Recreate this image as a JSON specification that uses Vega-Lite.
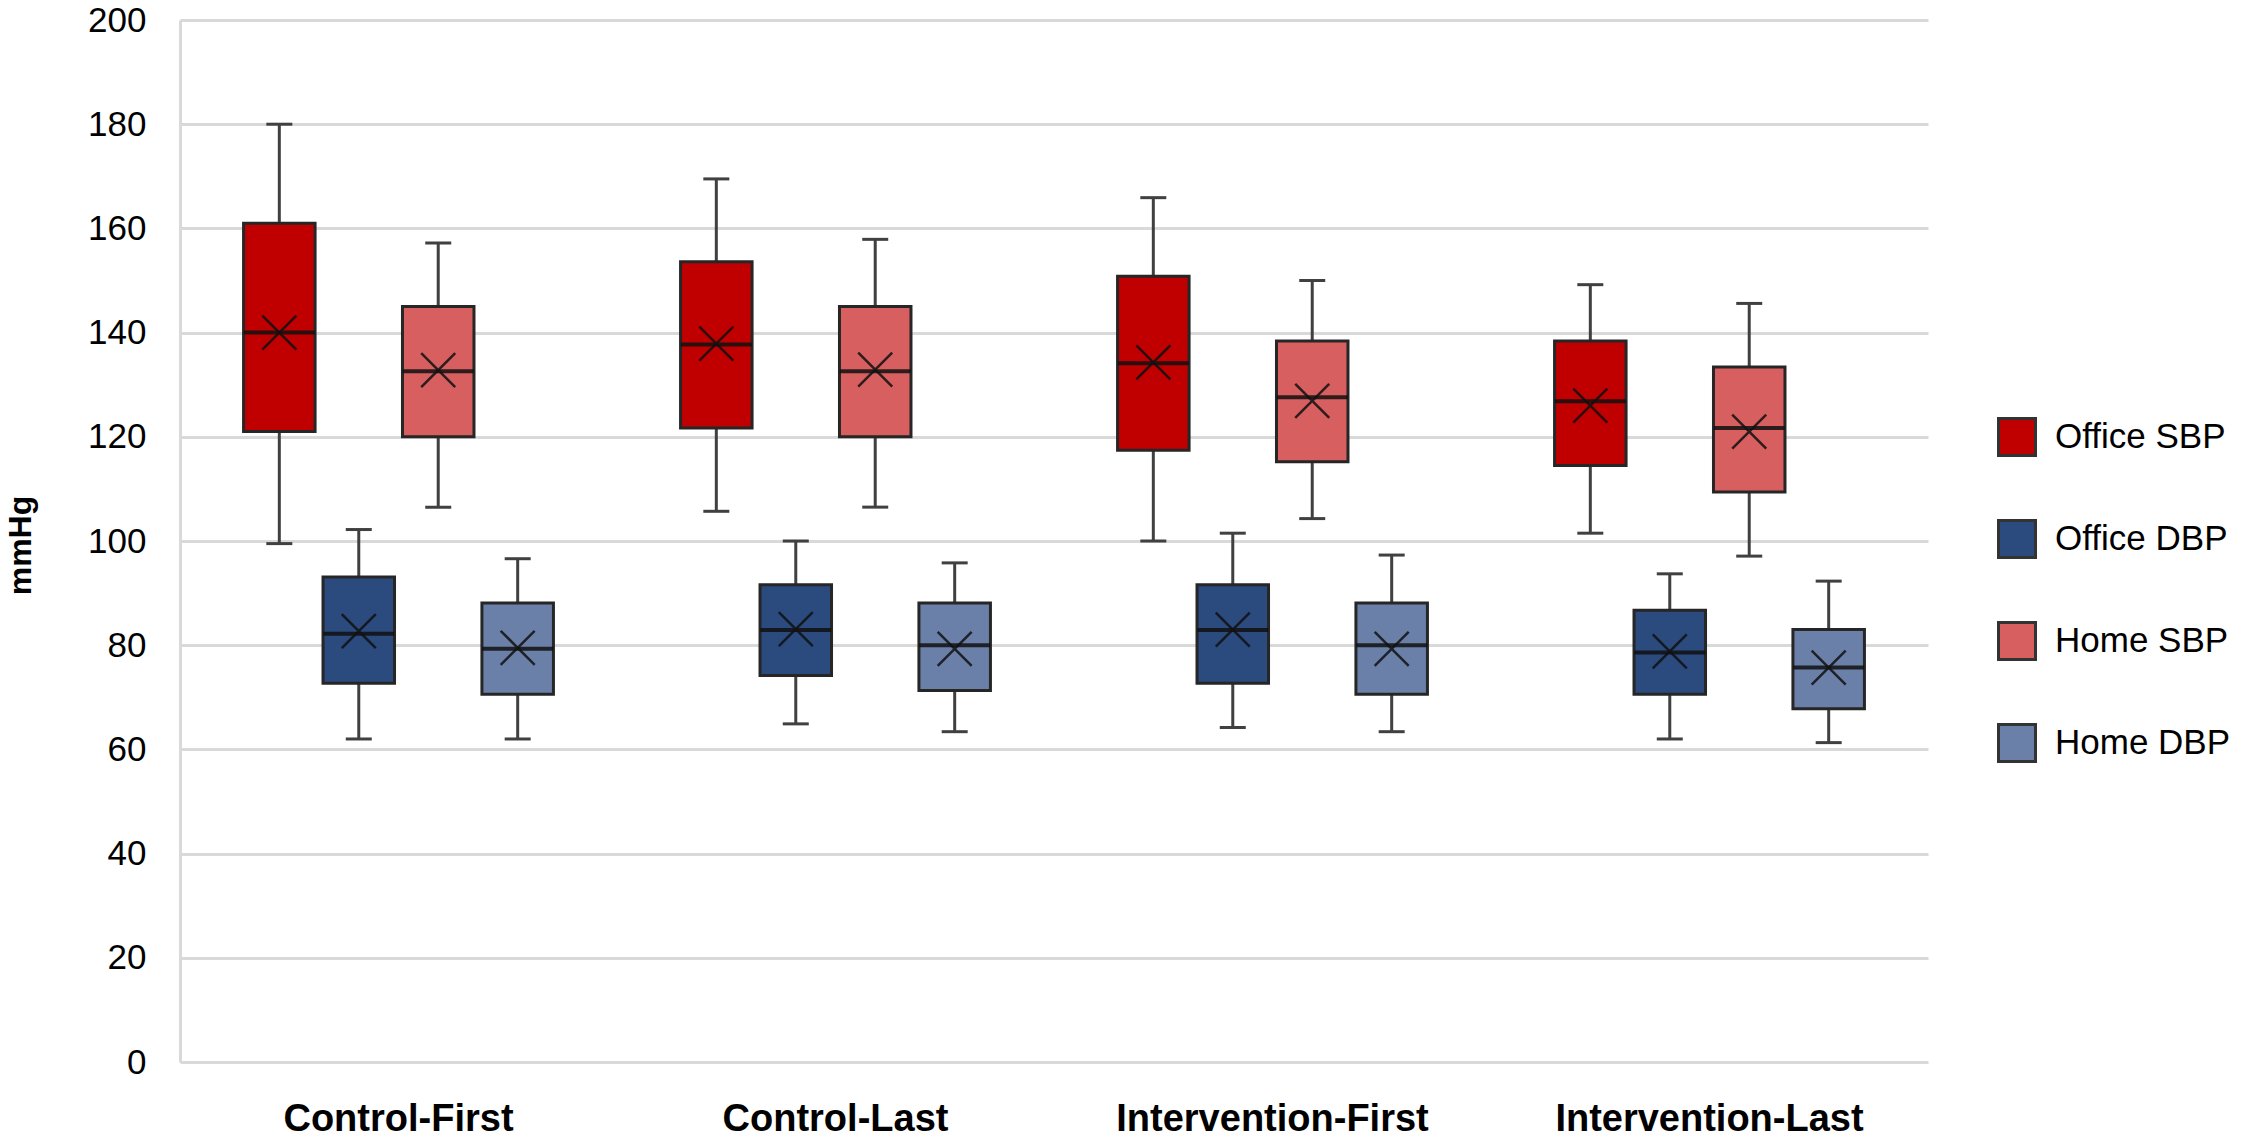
{
  "$schema": "https://vega.github.io/schema/vega-lite/v6.json",
  "width": 1748,
  "height": 1042,
  "autosize": {"type": "none"},
  "padding": {"left": 180, "top": 20, "right": 322, "bottom": 82},
  "background": "white",
  "config": {
    "view": {"stroke": null},
    "font": "Liberation Sans",
    "legend": {"padding": 0},
    "axisY": {
      "titleFont": "Liberation Sans",
      "titleFontSize": 32,
      "titleFontWeight": "bold",
      "titleColor": "#000000"
    }
  },
  "data": {
    "values": [
      {"group": "Control-First", "series": "Office SBP", "min": 99.5, "q1": 121, "median": 140, "q3": 161, "max": 180, "mean": 140},
      {"group": "Control-First", "series": "Office DBP", "min": 62, "q1": 72.7, "median": 82.2, "q3": 93.1, "max": 102.2, "mean": 82.7},
      {"group": "Control-First", "series": "Home SBP", "min": 106.5, "q1": 120, "median": 132.6, "q3": 145, "max": 157.2, "mean": 132.8},
      {"group": "Control-First", "series": "Home DBP", "min": 62, "q1": 70.6, "median": 79.3, "q3": 88.1, "max": 96.6, "mean": 79.5},
      {"group": "Control-Last", "series": "Office SBP", "min": 105.7, "q1": 121.7, "median": 137.7, "q3": 153.6, "max": 169.5, "mean": 137.9},
      {"group": "Control-Last", "series": "Office DBP", "min": 64.9, "q1": 74.2, "median": 82.9, "q3": 91.6, "max": 100, "mean": 83.1},
      {"group": "Control-Last", "series": "Home SBP", "min": 106.5, "q1": 120, "median": 132.6, "q3": 145, "max": 157.9, "mean": 132.9},
      {"group": "Control-Last", "series": "Home DBP", "min": 63.4, "q1": 71.3, "median": 80, "q3": 88.1, "max": 95.8, "mean": 79.3},
      {"group": "Intervention-First", "series": "Office SBP", "min": 100, "q1": 117.4, "median": 134.1, "q3": 150.8, "max": 165.9, "mean": 134.3},
      {"group": "Intervention-First", "series": "Office DBP", "min": 64.2, "q1": 72.7, "median": 82.9, "q3": 91.6, "max": 101.5, "mean": 83},
      {"group": "Intervention-First", "series": "Home SBP", "min": 104.3, "q1": 115.2, "median": 127.6, "q3": 138.4, "max": 150, "mean": 126.9},
      {"group": "Intervention-First", "series": "Home DBP", "min": 63.4, "q1": 70.6, "median": 80, "q3": 88.1, "max": 97.3, "mean": 79.3},
      {"group": "Intervention-Last", "series": "Office SBP", "min": 101.5, "q1": 114.5, "median": 126.8, "q3": 138.4, "max": 149.2, "mean": 126},
      {"group": "Intervention-Last", "series": "Office DBP", "min": 62, "q1": 70.6, "median": 78.6, "q3": 86.7, "max": 93.7, "mean": 78.8},
      {"group": "Intervention-Last", "series": "Home SBP", "min": 97.1, "q1": 109.4, "median": 121.7, "q3": 133.4, "max": 145.6, "mean": 121},
      {"group": "Intervention-Last", "series": "Home DBP", "min": 61.3, "q1": 67.8, "median": 75.7, "q3": 83, "max": 92.3, "mean": 75.7}
    ]
  },
  "encoding": {
    "x": {
      "field": "group",
      "type": "nominal",
      "sort": ["Control-First", "Control-Last", "Intervention-First", "Intervention-Last"],
      "scale": {"paddingInner": 0, "paddingOuter": 0},
      "axis": {
        "title": null,
        "labelAngle": 0,
        "labelFont": "Liberation Sans",
        "labelFontSize": 38,
        "labelFontWeight": "bold",
        "labelColor": "#000000",
        "labelPadding": 38,
        "labelLimit": 0,
        "labelOverlap": false,
        "ticks": false,
        "domain": false,
        "grid": false
      }
    },
    "xOffset": {
      "field": "series",
      "type": "nominal",
      "sort": ["Office SBP", "Office DBP", "Home SBP", "Home DBP"],
      "scale": {"paddingInner": 0.1, "paddingOuter": 0.8}
    }
  },
  "layer": [
    {
      "mark": {"type": "rule", "color": "#404040", "strokeWidth": 3},
      "encoding": {
        "y": {
          "field": "min",
          "type": "quantitative",
          "scale": {"domain": [0, 200], "nice": false},
          "axis": {
            "title": "mmHg",
            "titleFontSize": 32,
            "titleFontWeight": "bold",
            "titleAngle": 270,
            "titleBaseline": "middle",
            "titleAlign": "center",
            "titleX": -160,
            "titleY": 525,
            "values": [0, 20, 40, 60, 80, 100, 120, 140, 160, 180, 200],
            "labelFont": "Liberation Sans",
            "labelFontSize": 35,
            "labelColor": "#000000",
            "labelPadding": 34,
            "ticks": false,
            "domain": true,
            "domainColor": "#d9d9d9",
            "domainWidth": 3,
            "grid": true,
            "gridColor": "#d9d9d9",
            "gridWidth": 3
          }
        },
        "y2": {"field": "max"}
      }
    },
    {
      "mark": {"type": "tick", "color": "#404040", "size": 26, "thickness": 3, "opacity": 1},
      "encoding": {"y": {"field": "min", "type": "quantitative"}}
    },
    {
      "mark": {"type": "tick", "color": "#404040", "size": 26, "thickness": 3, "opacity": 1},
      "encoding": {"y": {"field": "max", "type": "quantitative"}}
    },
    {
      "mark": {"type": "bar", "stroke": "#262626", "strokeWidth": 3, "opacity": 1},
      "encoding": {
        "y": {"field": "q3", "type": "quantitative"},
        "y2": {"field": "q1"},
        "color": {
          "field": "series",
          "type": "nominal",
          "scale": {
            "domain": ["Office SBP", "Office DBP", "Home SBP", "Home DBP"],
            "range": ["#C00000", "#2B4A7E", "#D85F60", "#6B80A9"]
          },
          "legend": {
            "title": null,
            "orient": "none",
            "legendX": 1817,
            "legendY": 397,
            "symbolType": "square",
            "symbolSize": 1369,
            "symbolStrokeColor": "#333333",
            "symbolStrokeWidth": 3,
            "symbolOpacity": 1,
            "labelFont": "Liberation Sans",
            "labelFontSize": 35,
            "labelColor": "#000000",
            "labelOffset": 18,
            "labelLimit": 400,
            "rowPadding": 52
          }
        }
      }
    },
    {
      "mark": {"type": "tick", "color": "#111111", "size": 71, "thickness": 4, "opacity": 0.85},
      "encoding": {"y": {"field": "median", "type": "quantitative"}}
    },
    {
      "mark": {"type": "point", "shape": "M-1,-1L1,1M1,-1L-1,1", "size": 1156, "filled": false, "stroke": "#111111", "strokeWidth": 2.5, "opacity": 0.85},
      "encoding": {"y": {"field": "mean", "type": "quantitative"}}
    }
  ]
}
